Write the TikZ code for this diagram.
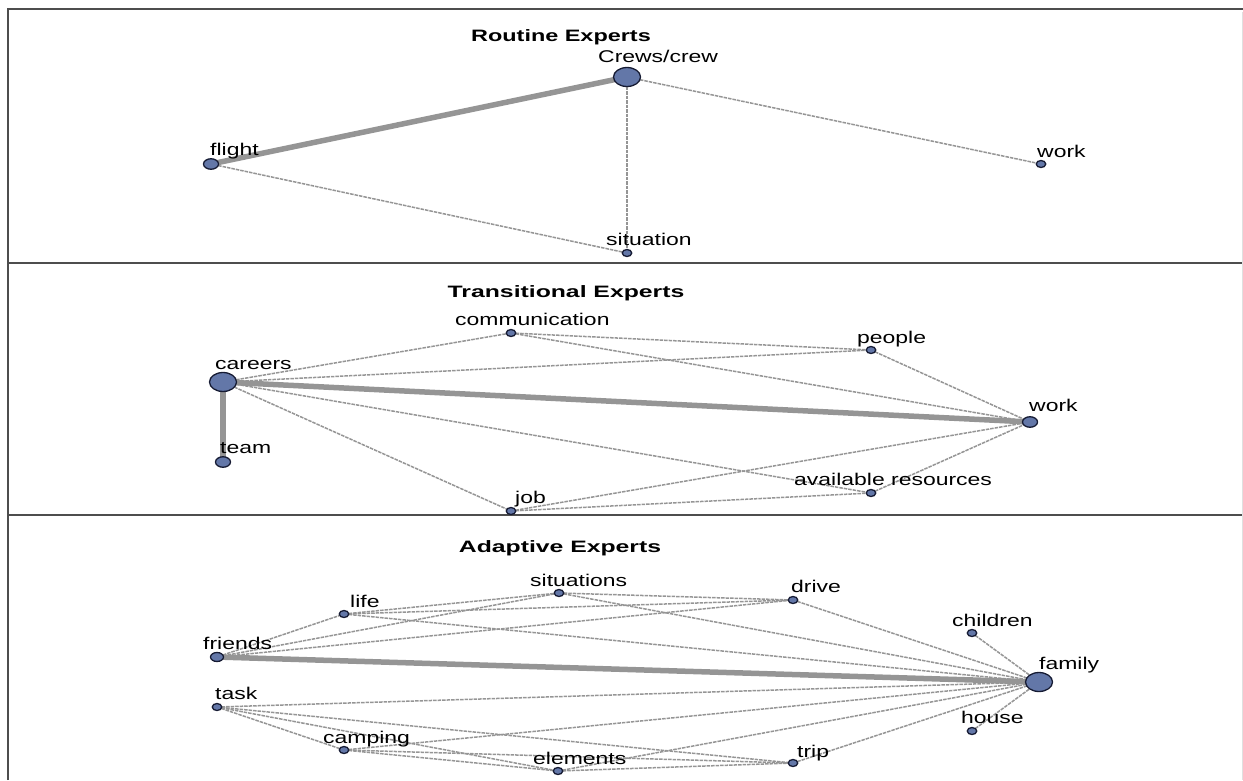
\documentclass[tikz,border=0pt]{standalone}
\usepackage{fontspec}
\setmainfont{Liberation Sans}
\usetikzlibrary{shapes.geometric}
\pgfdeclarelayer{edges}
\pgfsetlayers{edges,main}

\definecolor{nodefill}{HTML}{6377A8}
\definecolor{nodeline}{HTML}{161B33}
\definecolor{edgegray}{HTML}{959595}
\definecolor{framegray}{HTML}{4D4D4D}

% word labels and panel titles, set wide
\newcommand{\wlabel}[1]{\scalebox{1.35}[1]{\fontsize{17}{20}\selectfont #1}}
\newcommand{\ptitle}[2]{\scalebox{#1}[1]{\fontsize{16.5}{20}\selectfont\bfseries #2}}

\tikzset{
  vert/.style={ellipse, draw=nodeline, line width=1.3pt, fill=nodefill, inner sep=0pt, outer sep=0pt},
  bigv/.style={vert, minimum width=27pt, minimum height=19pt},
  midv/.style={vert, minimum width=15pt, minimum height=10.5pt},
  frv/.style={vert, minimum width=13pt, minimum height=9pt},
  smallv/.style={vert, minimum width=9.5pt, minimum height=7pt},
  wlab/.style={anchor=base west, inner sep=0pt},
  ttl/.style={anchor=base, inner sep=0pt},
  tie/.style={draw=edgegray, line width=1.5pt, dash pattern=on 3.5pt off 1pt},
  strongtie/.style={draw=edgegray, line width=5.5pt},
  frame/.style={draw=framegray, line width=2pt}
}

\begin{document}
\begin{tikzpicture}[x=1pt,y=-1pt]
\useasboundingbox (0,0) rectangle (1243,780);

% panel frame and dividers
\draw[frame] (8,780) -- (8,9) -- (1243,9);
\draw[frame] (8,263) -- (1243,263);
\draw[frame] (8,515) -- (1243,515);
\draw[draw=black!12, line width=1pt] (1242,12) -- (1242,780);

% ---------------- Routine Experts ----------------
\node[ttl] (t1) at (561,41) {\ptitle{1.42}{Routine Experts}};
\node[bigv]   (crews) at (627,77) {};
\node[midv]   (flight) at (211,164) {};
\node[smallv] (work1) at (1041,164) {};
\node[smallv] (situation) at (627,253) {};
\node[wlab] (l-crews) at (598,62) {\wlabel{Crews/crew}};
\node[wlab] (l-flight) at (210,155) {\wlabel{flight}};
\node[wlab] (l-work1) at (1037,157) {\wlabel{work}};
\node[wlab] (l-situation) at (606,245) {\wlabel{situation}};

% ---------------- Transitional Experts ----------------
\node[ttl] (t2) at (566,297) {\ptitle{1.5}{Transitional Experts}};
\node[bigv]   (careers) at (223,382) {};
\node[midv]   (team) at (223,462) {};
\node[smallv] (comm) at (511,333) {};
\node[smallv] (people) at (871,350) {};
\node[midv]   (work2) at (1030,422) {};
\node[smallv] (job) at (511,511) {};
\node[smallv] (avail) at (871,493) {};
\node[wlab] (l-careers) at (215,369) {\wlabel{careers}};
\node[wlab] (l-team) at (220,453) {\wlabel{team}};
\node[wlab] (l-comm) at (455,325) {\wlabel{communication}};
\node[wlab] (l-people) at (857,343) {\wlabel{people}};
\node[wlab] (l-work2) at (1029,411) {\wlabel{work}};
\node[wlab] (l-job) at (515,503) {\wlabel{job}};
\node[wlab] (l-avail) at (794,485) {\wlabel{available resources}};

% ---------------- Adaptive Experts ----------------
\node[ttl] (t3) at (560,552) {\ptitle{1.5}{Adaptive Experts}};
\node[smallv] (situations) at (559,593) {};
\node[smallv] (drive) at (793,600) {};
\node[smallv] (life) at (344,614) {};
\node[smallv] (children) at (972,633) {};
\node[frv]    (friends) at (217,657) {};
\node[bigv]   (family) at (1039,682) {};
\node[smallv] (task) at (217,707) {};
\node[smallv] (house) at (972,731) {};
\node[smallv] (camping) at (344,750) {};
\node[smallv] (trip) at (793,763) {};
\node[smallv] (elements) at (558,771) {};
\node[wlab] (l-situations) at (530,586) {\wlabel{situations}};
\node[wlab] (l-drive) at (791,592) {\wlabel{drive}};
\node[wlab] (l-life) at (350,607) {\wlabel{life}};
\node[wlab] (l-children) at (952,626) {\wlabel{children}};
\node[wlab] (l-friends) at (203,649) {\wlabel{friends}};
\node[wlab] (l-family) at (1039,669) {\wlabel{family}};
\node[wlab] (l-task) at (215,699) {\wlabel{task}};
\node[wlab] (l-house) at (961,723) {\wlabel{house}};
\node[wlab] (l-camping) at (323,743) {\wlabel{camping}};
\node[wlab] (l-trip) at (797,757) {\wlabel{trip}};
\node[wlab] (l-elements) at (533,764) {\wlabel{elements}};

\begin{pgfonlayer}{edges}
  % routine
  \draw[strongtie] (crews.center) -- (flight.center);
  \draw[tie] (crews) -- (work1);
  \draw[tie] (crews) -- (situation);
  \draw[tie] (flight) -- (situation);
  % transitional
  \draw[strongtie] (careers.center) -- (work2.center);
  \draw[strongtie] (careers.center) -- (team.center);
  \draw[tie] (careers) -- (comm);
  \draw[tie] (careers) -- (people);
  \draw[tie] (careers) -- (job);
  \draw[tie] (careers) -- (avail);
  \draw[tie] (comm) -- (people);
  \draw[tie] (comm) -- (work2);
  \draw[tie] (people) -- (work2);
  \draw[tie] (job) -- (work2);
  \draw[tie] (job) -- (avail);
  \draw[tie] (avail) -- (work2);
  % adaptive
  \draw[strongtie] (friends.center) -- (family.center);
  \draw[tie] (friends) -- (life);
  \draw[tie] (friends) -- (situations);
  \draw[tie] (friends) -- (drive);
  \draw[tie] (life) -- (situations);
  \draw[tie] (life) -- (drive);
  \draw[tie] (life) -- (family);
  \draw[tie] (situations) -- (drive);
  \draw[tie] (situations) -- (family);
  \draw[tie] (drive) -- (family);
  \draw[tie] (children) -- (family);
  \draw[tie] (house) -- (family);
  \draw[tie] (task) -- (family);
  \draw[tie] (task) -- (trip);
  \draw[tie] (task) -- (camping);
  \draw[tie] (task) -- (elements);
  \draw[tie] (camping) -- (family);
  \draw[tie] (camping) -- (elements);
  \draw[tie] (camping) -- (trip);
  \draw[tie] (elements) -- (family);
  \draw[tie] (elements) -- (trip);
  \draw[tie] (trip) -- (family);
\end{pgfonlayer}
\end{tikzpicture}
\end{document}
